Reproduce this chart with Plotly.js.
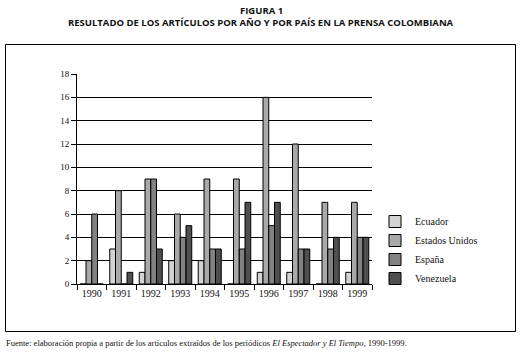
<!DOCTYPE html>
<html>
<head>
<meta charset="utf-8">
<script src="https://cdn.plot.ly/plotly-3.0.1.min.js"></script>
<style>html,body{margin:0;padding:0;background:#fff;}#chart{width:520px;height:352px;}</style>
</head>
<body>
<div id="chart"></div>
<script>
var years = ['1990','1991','1992','1993','1994','1995','1996','1997','1998','1999'];
var seriesNames = ['Ecuador','Estados Unidos','España','Venezuela'];
var ecuador      = [0, 3, 1, 2, 2, 0, 1, 1, 0, 1];
var estadosUnidos= [2, 8, 9, 6, 9, 9, 16, 12, 7, 7];
var espana       = [6, 0, 9, 4, 3, 3, 5, 3, 3, 4];
var venezuela    = [0, 1, 3, 5, 3, 7, 7, 3, 4, 4];
var yTicks = [0, 2, 4, 6, 8, 10, 12, 14, 16, 18];
var colors = ['#d3d3d3', '#a9a9a9', '#828282', '#4f4f4f'];
var seriesValues = [ecuador, estadosUnidos, espana, venezuela];

var serif = 'Liberation Serif, DejaVu Serif, serif';
var sans = 'Open Sans, Lato, sans-serif';

var traces = seriesNames.map(function(n, i){
  return {type:'bar', name:n, x:years, y:seriesValues[i],
    marker:{color:colors[i], line:{color:'#000', width:1}}};
});

var L=77, R=372, T=74, B=284;
function px(x){return (x-L)/(R-L);}
function py(y){return (B-y)/(B-T);}

var layout = {
  width:520, height:352,
  margin:{l:L, r:520-R, t:T, b:352-B, pad:0},
  paper_bgcolor:'#fff', plot_bgcolor:'#fff',
  barmode:'group', bargap:0.22, bargroupgap:0,
  showlegend:true,
  legend:{x:px(375), y:py(207), xanchor:'left', yanchor:'top', itemwidth:30,
    font:{family:serif, size:10, color:'#111'}, bgcolor:'rgba(0,0,0,0)', tracegroupgap:0},
  xaxis:{type:'category', showline:true, linecolor:'#000', linewidth:1,
    ticks:'outside', tickson:'boundaries', ticklen:5, tickcolor:'#000',
    tickfont:{family:serif, size:10, color:'#111'}, showgrid:false, fixedrange:true},
  yaxis:{range:[0,18], tickvals:yTicks, ticktext:yTicks.map(String),
    showline:true, linecolor:'#000', linewidth:1,
    ticks:'outside', ticklen:5, tickcolor:'#000',
    showgrid:true, gridcolor:'#000', gridwidth:1, zeroline:false,
    tickfont:{family:serif, size:9, color:'#111'}, fixedrange:true},
  shapes:[{type:'rect', xref:'paper', yref:'paper',
    x0:px(5.5), x1:px(515.5), y0:py(331.5), y1:py(44.5),
    line:{color:'#000', width:1}, fillcolor:'rgba(0,0,0,0)', layer:'below'}],
  annotations:[
    {text:'<b>FIGURA 1</b>', xref:'paper', yref:'paper', x:px(261), y:py(10),
      showarrow:false, xanchor:'center', yanchor:'middle', font:{family:sans, size:9.5, color:'#111'}},
    {text:'<b>RESULTADO DE LOS ARTÍCULOS POR AÑO Y POR PAÍS EN LA PRENSA COLOMBIANA</b>', xref:'paper', yref:'paper', x:px(261), y:py(22),
      showarrow:false, xanchor:'center', yanchor:'middle', font:{family:sans, size:9.5, color:'#111'}},
    {text:'Fuente: elaboración propia a partir de los artículos extraídos de los periódicos <i>El Espectador y El Tiempo</i>, 1990-1999.',
      xref:'paper', yref:'paper', x:px(4), y:py(343), showarrow:false, xanchor:'left', yanchor:'middle',
      font:{family:serif, size:8.5, color:'#111'}}
  ]
};

Plotly.newPlot('chart', traces, layout, {displayModeBar:false, staticPlot:true});
</script>
</body>
</html>
